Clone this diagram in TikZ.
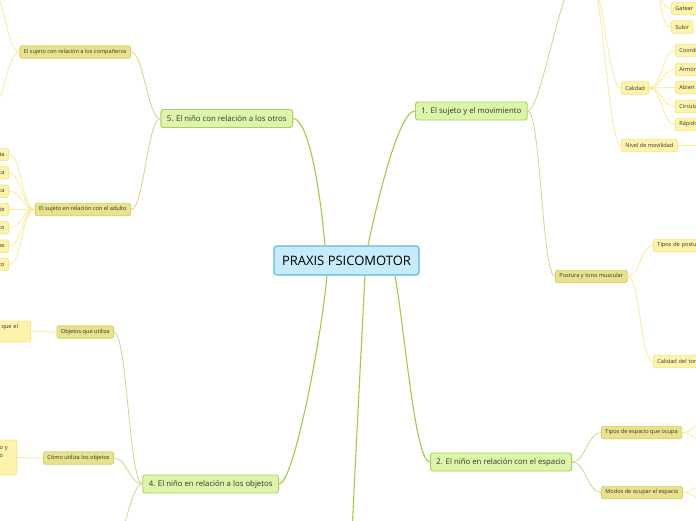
\documentclass[tikz,border=0pt]{standalone}
\usepackage{fontspec}
\setmainfont{Open Sans}
\definecolor{txt}{HTML}{333333}
\definecolor{rootfill}{HTML}{C6EBFC}
\definecolor{rootline}{HTML}{5BB7E6}
\definecolor{topfill}{HTML}{DDF5A8}
\definecolor{topline}{HTML}{A6D357}
\definecolor{subfill}{HTML}{E8E28E}
\definecolor{subline}{HTML}{D8D06C}
\definecolor{leaffill}{HTML}{FDF3AA}
\definecolor{leafline}{HTML}{FAE68A}
\definecolor{rootlinkc}{HTML}{9FCD44}
\definecolor{toplinkc}{HTML}{D6D190}
\definecolor{leaflinkc}{HTML}{FBEB96}
\tikzset{
  root/.style={draw=rootline, fill=rootfill, line width=1.2pt, rounded corners=3pt,
    minimum height=29, minimum width=145, font=\fontsize{13}{15}\selectfont, text=black},
  topic/.style={draw=topline, fill=topfill, line width=0.9pt, rounded corners=2.5pt,
    minimum height=18, inner xsep=6, font=\fontsize{7.8}{9}\selectfont, text=txt},
  subtopic/.style={draw=subline, fill=subfill, line width=0.8pt, rounded corners=2pt,
    minimum height=12.5, inner xsep=4, inner ysep=1, font=\fontsize{5.6}{8}\selectfont, text=txt},
  leaf/.style={subtopic, draw=leafline, fill=leaffill},
  cutleaf/.style={leaf, anchor=east, text width=30, align=left},
  rcutleaf/.style={leaf, anchor=west, text width=40, align=left},
  rootlink/.style={draw=rootlinkc, line width=1.1pt, out distance=60, in distance=15},
  toplink/.style={draw=toplinkc, line width=0.8pt, distance=13},
  leaflink/.style={draw=leaflinkc, line width=0.8pt, distance=13}
}
\begin{document}
\begin{tikzpicture}[x=1pt, y=1pt]
  \useasboundingbox (0,0) rectangle (696,-520);
  \clip (0,0) rectangle (696,-520);
  \fill[white] (0,0) rectangle (696,-520);

  \node[root] (praxis) at (346.5,-260.5) {PRAXIS PSICOMOTOR};
  \node[topic, anchor=west] (sujeto) at (415,-111) {1. El sujeto y el movimiento};
  \node[topic, anchor=west] (espacio) at (430,-462) {2. El niño en relación con el espacio};
  \node[topic, anchor=east] (objetos) at (279,-484) {4. El niño en relación a los objetos};
  \node[topic, anchor=east] (otros) at (293,-118.5) {5. El niño con relación a los otros};

  \node[subtopic, anchor=east] (companeros) at (131,-52) {El sujeto con relación a los compañeros};
  \node[subtopic, anchor=east] (adulto) at (131,-209.5) {El sujeto en relación con el adulto};
  \node[subtopic, anchor=east] (utiliza) at (114,-332) {Objetos que utiliza};
  \node[subtopic, anchor=east] (como) at (114,-458) {Cómo utiliza los objetos};
  \node[subtopic, anchor=west] (postura) at (555,-276.5) {Postura y tono muscular};
  \node[subtopic, anchor=west] (tipoesp) at (601,-432.5) {Tipos de espacio que ocupa};
  \node[subtopic, anchor=west] (modos) at (601,-492.5) {Modos de ocupar el espacio};

  \node[leaf, anchor=west] (gatear) at (671,-8.5) {Gatear};
  \node[leaf, anchor=west] (subir) at (671,-27) {Subir};
  \node[leaf, anchor=west] (calidad) at (621,-88) {Calidad};
  \node[leaf, anchor=west] (nivel) at (621,-145.5) {Nivel de movilidad};
  \foreach \name/\txt/\y in {coord/Coordi/50.5, armon/Armón/69.5, abierto/Abiert/87.5,
      circ/Circula/106.5, rapido/Rápido/124.5}
    \node[rcutleaf] (\name) at (675,-\y) {\txt};
  \node[rcutleaf] (tipopost) at (653,-245.5) {Tipos de postu};
  \node[rcutleaf] (caltono) at (653,-361.5) {Calidad del ton};
  \foreach \txt [count=\i] in {ta,ca,ca,te,to,as,to}
  {
    \pgfmathsetmacro{\y}{154.5+18.33*(\i-1)}
    \node[cutleaf, align=right] (adulto\i) at (9,-\y) {\txt};
  }
  \node[cutleaf, minimum height=21] (utilizaleaf) at (31,-331.5) {\hspace*{5pt}que el\\\strut};
  \node[cutleaf, minimum height=35] (comoleaf) at (17,-457.5)
    {\hspace*{17pt}o y\\\hspace*{17pt}o\\\strut};

  \coordinate (tema3) at (351,-560);
  \coordinate (hmov) at (590,20);
  \coordinate (hsub) at (575,20);
  \coordinate (hgat) at (651,14);
  \coordinate (hobj) at (108,-560);
  \coordinate (hcomp1) at (-8,8);
  \coordinate (hcomp2) at (-8,-105);

  \draw[rootlink] ([xshift=21.5]praxis.north) to[out=78, in=180] (sujeto.west);
  \draw[rootlink] ([xshift=-21.5]praxis.north) to[out=95, in=0] (otros.east);
  \draw[rootlink] ([xshift=-19.5]praxis.south) to[out=-95, in=0] (objetos.east);
  \draw[rootlink] ([xshift=18.5]praxis.south) to[out=-93, in=90] (tema3);
  \draw[rootlink] ([xshift=48.5]praxis.south) to[out=-80, in=180] (espacio.west);

  \draw[toplink] (sujeto.east) to[out=0, in=180] (hsub);
  \draw[toplink] (sujeto.east) to[out=0, in=180] (postura.west);
  \draw[toplink] (espacio.east) to[out=0, in=180] (tipoesp.west);
  \draw[toplink] (espacio.east) to[out=0, in=180] (modos.west);
  \draw[toplink] (objetos.west) to[out=180, in=0] (utiliza.east);
  \draw[toplink] (objetos.west) to[out=180, in=0] (como.east);
  \draw[toplink] (objetos.west) to[out=180, in=0] (hobj);
  \draw[toplink] (otros.west) to[out=180, in=0] (companeros.east);
  \draw[toplink] (otros.west) to[out=180, in=0] (adulto.east);

  \draw[leaflink] (hmov) to[out=0, in=180] (calidad.west);
  \draw[leaflink] (hmov) to[out=0, in=180] (nivel.west);
  \draw[leaflink] (hgat) to[out=0, in=180] (gatear.west);
  \draw[leaflink] (hgat) to[out=0, in=180] (subir.west);
  \foreach \name in {coord, armon, abierto, circ, rapido}
    \draw[leaflink] (calidad.east) to[out=0, in=180] (\name.west);
  \draw[leaflink] (nivel.east) -- ++(60,0);
  \draw[leaflink] (postura.east) to[out=0, in=180] (tipopost.west);
  \draw[leaflink] (postura.east) to[out=0, in=180] (caltono.west);
  \draw[leaflink] (tipoesp.east) to[out=0, in=180] ++(30,15);
  \draw[leaflink] (tipoesp.east) to[out=0, in=180] ++(30,-15);
  \draw[leaflink] (modos.east) to[out=0, in=180] ++(30,13);
  \draw[leaflink] (modos.east) to[out=0, in=180] ++(30,-13);
  \foreach \i in {1,...,7}
    \draw[leaflink] (adulto.west) to[out=180, in=0] (adulto\i.east);
  \draw[leaflink] (companeros.west) to[out=180, in=0] (hcomp1);
  \draw[leaflink] (companeros.west) to[out=180, in=0] (hcomp2);
  \draw[leaflink] (utiliza.west) -- (utilizaleaf.east);
  \draw[leaflink] (como.west) -- (comoleaf.east);
\end{tikzpicture}
\end{document}
